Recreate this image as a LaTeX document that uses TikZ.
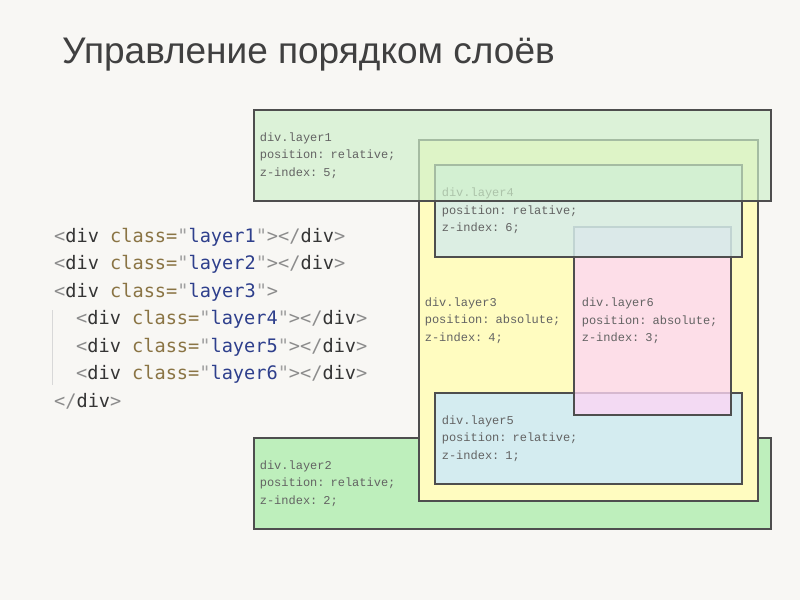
\documentclass[tikz,border=0pt]{standalone}
\usepackage{fontspec}
\setmainfont{Liberation Sans}
\newfontfamily\titlefont{Liberation Sans}
\newfontfamily\boxfont{Liberation Mono}
\newfontfamily\codefont{DejaVu Sans Mono}
\usetikzlibrary{positioning}
\definecolor{cBg}{HTML}{F8F7F4}
\definecolor{cTitle}{HTML}{404040}
\definecolor{cEdge}{HTML}{4E4E4E}
\definecolor{cNote}{HTML}{636363}
\definecolor{cL1}{HTML}{CFF1CB}
\definecolor{cL2}{HTML}{BEEFBC}
\definecolor{cL3}{HTML}{FFFCC0}
\definecolor{cL4}{HTML}{D6ECEA}
\definecolor{cL5}{HTML}{D4ECF0}
\definecolor{cL6}{HTML}{FDD6F4}
\definecolor{cBrk}{HTML}{8C8C8C}
\definecolor{cTag}{HTML}{353535}
\definecolor{cAttr}{HTML}{8A7444}
\definecolor{cQuo}{HTML}{A0A0A0}
\definecolor{cVal}{HTML}{2E3F8C}
\definecolor{cGuide}{HTML}{D8D8D8}
\newcommand{\opentag}[1]{\textcolor{cBrk}{<}\textcolor{cTag}{div} \textcolor{cAttr}{class=}\textcolor{cQuo}{"}\textcolor{cVal}{#1}\textcolor{cQuo}{"}\textcolor{cBrk}{>}}
\newcommand{\closetag}{\textcolor{cBrk}{</}\textcolor{cTag}{div}\textcolor{cBrk}{>}}
\tikzset{
  layer/.style={draw=cEdge, line width=1.6pt, fill=#1, anchor=north west,
                inner xsep=6pt, inner ysep=0pt, align=left, text=cNote, text opacity=1,
                font=\boxfont\fontsize{12}{17.5}\selectfont},
  code/.style={anchor=base west, inner sep=0pt, font=\codefont\fontsize{18.6}{22}\selectfont},
  title/.style={anchor=base west, inner sep=0pt, text=cTitle, font=\titlefont\fontsize{37}{44}\selectfont},
  guide/.style={draw=cGuide, line width=1pt},
}
\begin{document}
\begin{tikzpicture}[x=1pt, y=-1pt]
\fill[cBg] (0,0) rectangle (800,600);
\useasboundingbox (0,0) rectangle (800,600);

% ------------------------------------------------------------------ title
\node[title] (head) at (62,63) {Управление порядком слоёв};

% ------------------------------------------------------------------ markup
\node[code] (c1) at (54,242)   {\opentag{layer1}\closetag};
\node[code] (c2) at (54,269.5) {\opentag{layer2}\closetag};
\node[code] (c3) at (54,297)   {\opentag{layer3}};
\node[code] (c4) at (76,324.5) {\opentag{layer4}\closetag};
\node[code] (c5) at (76,352)   {\opentag{layer5}\closetag};
\node[code] (c6) at (76,379.5) {\opentag{layer6}\closetag};
\node[code] (c7) at (54,407)   {\closetag};
\coordinate (gtop) at (52,310);
\coordinate (gbot) at (52,385);
\draw[guide] (gtop) -- (gbot);

% ------------------------------------------------------------------ layers, lowest first
\node[layer=cL2, minimum width=517pt, minimum height=91pt, text width=505pt] (l2) at (253,437)
  {div.layer2\\position: relative;\\z-index: 2;};
\node[layer=cL3, minimum width=339pt, minimum height=361pt, text width=327pt] (l3) at (418,139)
  {div.layer3\\position: absolute;\\z-index: 4;};
\node[layer=cL5, minimum width=307pt, minimum height=91pt, text width=293pt, inner xsep=7pt] (l5) at (434,392)
  {div.layer5\\position: relative;\\z-index: 1;};
\node[layer=cL6, fill opacity=0.78, minimum width=157pt, minimum height=188pt, text width=141pt, inner xsep=8pt] (l6) at (573,226)
  {div.layer6\\position: absolute;\\z-index: 3;};
\node[layer=cL4, fill opacity=0.85, minimum width=307pt, minimum height=92pt, text width=293pt, inner xsep=7pt] (l4) at (434,164)
  {div.layer4\\position: relative;\\z-index: 6;};
\node[layer=cL1, fill opacity=0.68, minimum width=517pt, minimum height=91pt, text width=505pt] (l1) at (253,109)
  {div.layer1\\position: relative;\\z-index: 5;};

\end{tikzpicture}
\end{document}
